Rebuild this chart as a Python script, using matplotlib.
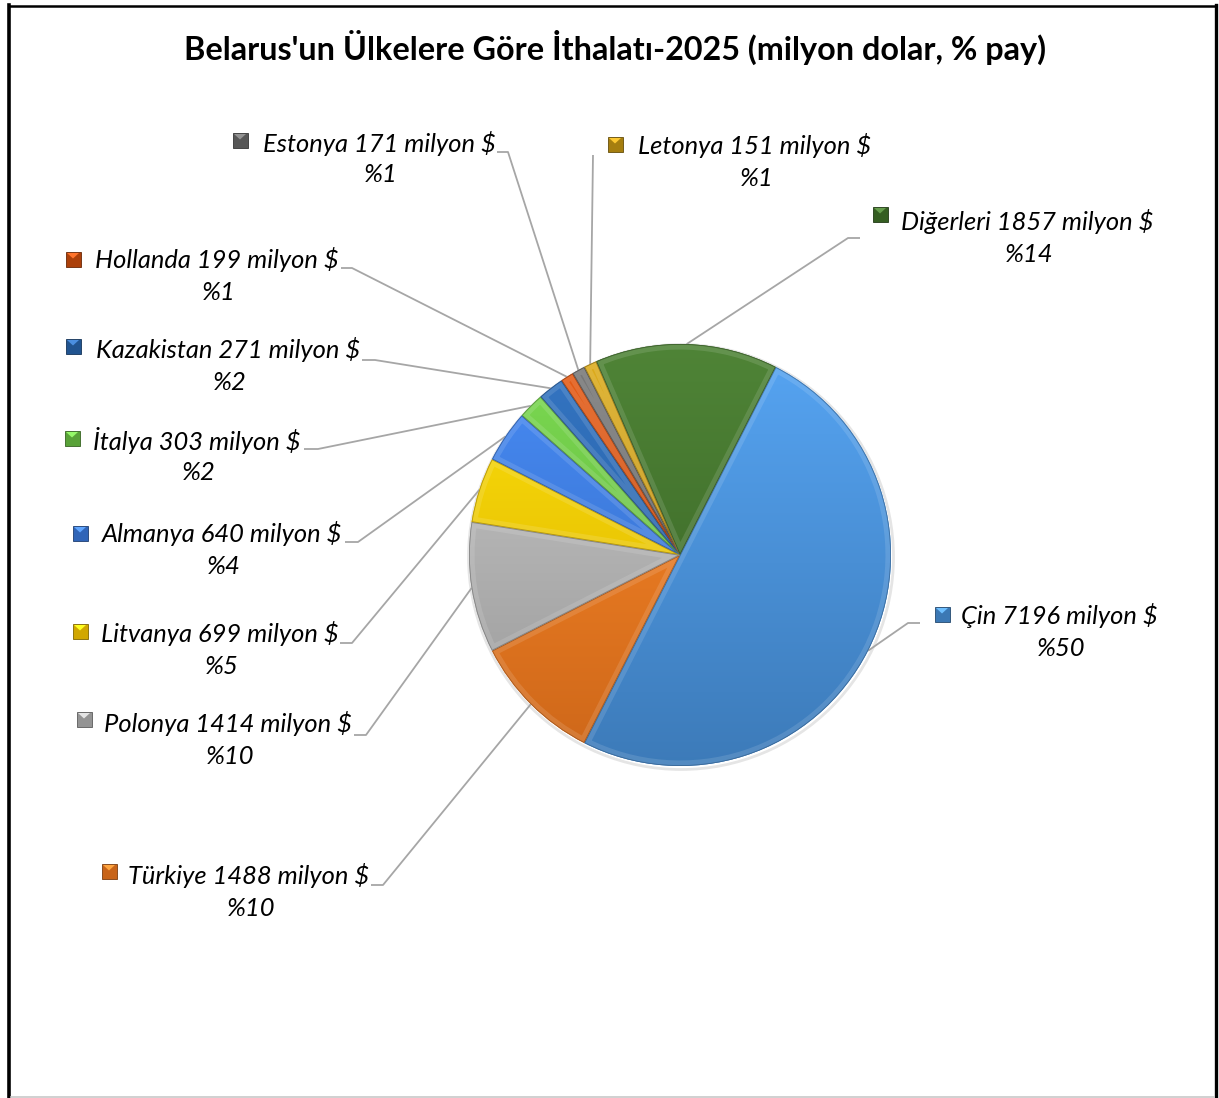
import numpy as np
import matplotlib
matplotlib.use("Agg")
import matplotlib.pyplot as plt
from matplotlib.patches import Wedge, Polygon, Circle
from matplotlib.colors import to_rgb

# ---------------- data ----------------
title = "Belarus'un Ülkelere Göre İthalatı-2025 (milyon dolar, % pay)"
countries = ["Çin", "Türkiye", "Polonya", "Litvanya", "Almanya", "İtalya",
             "Kazakistan", "Hollanda", "Estonya", "Letonya", "Diğerleri"]
imports_musd = [7196, 1488, 1414, 699, 640, 303, 271, 199, 171, 151, 1857]
share_pct = [50, 10, 10, 5, 4, 2, 2, 1, 1, 1, 14]
unit = "milyon $"

colors = ["#4892dc", "#f47a1e", "#b4b4b4", "#ffcc00", "#3b7be0", "#6cc644",
          "#2866b0", "#d24e0c", "#6a6a6a", "#c99a12", "#41732a"]

# ---------------- layout (pixels, origin top-left) ----------------
W, H = 1219, 1098
# text-center-x, line1-y, marker-x, marker-y, leader start (x,y), elbow (x,y)
layout = {
    "Çin":        (1059, 616, 942, 614, (920, 623), (908, 623)),
    "Türkiye":    (249, 876, 109, 871, (371, 885), (383, 885)),
    "Polonya":    (228, 724, 84, 719, (354, 735), (366, 735)),
    "Litvanya":   (220, 634, 80, 631, (340, 643), (352, 643)),
    "Almanya":    (222, 534, 80, 533, (345, 542), (358, 542)),
    "İtalya":     (197, 440, 72, 438, (304, 449), (318, 449)),
    "Kazakistan": (228, 350, 73, 346, (362, 360), (375, 360)),
    "Hollanda":   (217, 260, 73, 259, (341, 268), (352, 268)),
    "Estonya":    (379, 143, 240, 140, (497, 152), (508, 152)),
    "Letonya":    (755, 146, 615, 144, (593, 155), (593, 155)),
    "Diğerleri":  (1027, 222, 880, 214, (860, 238), (848, 238)),
}


def P(x, y):
    return (x, H - y)


fig = plt.figure(figsize=(W / 100, H / 100), dpi=100)
ax = fig.add_axes([0, 0, 1, 1])

cx, cy = P(680, 555)
R = 211

wedges, _ = ax.pie(share_pct, colors=colors, startangle=63, counterclock=False,
                   center=(cx, cy), radius=R,
                   wedgeprops=dict(edgecolor="none", linewidth=0))

# soft outer shadow
ax.add_patch(Circle((cx + 1, cy - 2), R + 1.5, facecolor="none",
                    edgecolor=(0, 0, 0, 0.10), lw=2.0, zorder=0.5))

grad = np.linspace(0, 1, 256)[:, None, None]
for w, c in zip(wedges, colors):
    rgb = np.array(to_rgb(c))
    top = np.clip(rgb * 1.06 + 0.04, 0, 1)
    bot = rgb * 0.84
    img = top[None, None, :] * (1 - grad) + bot[None, None, :] * grad
    img = np.repeat(img, 4, axis=1)
    im = ax.imshow(img, extent=(cx - R, cx + R, cy - R, cy + R), origin="upper",
                   zorder=2, interpolation="bilinear")
    im.set_clip_path(w)
    # bevel: subtle light inner band and darker edge
    band = Wedge(w.center, w.r, w.theta1, w.theta2, facecolor="none",
                 edgecolor=(1, 1, 1, 0.12), lw=8, zorder=3)
    ax.add_patch(band)
    band.set_clip_path(w)
    edge = Wedge(w.center, w.r, w.theta1, w.theta2, facecolor="none",
                 edgecolor=tuple(rgb * 0.55) + (0.6,), lw=1.2, zorder=3.5)
    ax.add_patch(edge)
    edge.set_clip_path(w)

# ---------------- fonts ----------------
renderer = fig.canvas.get_renderer()


def fit_size(text, target_w, **kw):
    t = ax.text(0, 0, text, fontsize=20, **kw)
    wpx = t.get_window_extent(renderer).width
    t.remove()
    return 20 * target_w / wpx


lab_kw = dict(family=["Lato", "DejaVu Sans"], fontstyle="italic")
lab_fs = fit_size(f"Kazakistan 271 {unit}", 264, **lab_kw)
title_kw = dict(family=["Lato", "DejaVu Sans"], fontweight="bold")
title_fs = fit_size(title, 862, **title_kw)

ax.text(*P(615, 47), title, ha="center", va="center", fontsize=title_fs,
        color="black", **title_kw)

# ---------------- labels, markers, leaders ----------------
for w, name, val, pct, c in zip(wedges, countries, imports_musd, share_pct, colors):
    tx, ty, mx, my, (sx, sy), (ex, ey) = layout[name]
    ax.text(*P(tx, ty), f"{name} {val} {unit}", ha="center", va="center",
            fontsize=lab_fs, color="black", **lab_kw)
    ax.text(*P(tx + 2, ty + 32), f"%{pct}", ha="center", va="center",
            fontsize=lab_fs, color="black", **lab_kw)

    # bevelled square marker
    rgb = np.array(to_rgb(c))
    s = 7.5
    X, Y = P(mx, my)
    ax.add_patch(Polygon([(X - s, Y - s), (X + s, Y - s), (X + s, Y + s), (X - s, Y + s)],
                         closed=True, facecolor=rgb * 0.82, edgecolor=rgb * 0.5,
                         lw=0.6, zorder=5))
    ax.add_patch(Polygon([(X - s + 1.5, Y + s - 1.5), (X + s - 1.5, Y + s - 1.5), (X, Y + 0.5)],
                         closed=True, facecolor=np.clip(rgb * 1.1 + 0.12, 0, 1),
                         edgecolor="none", zorder=6))

    # leader line to slice mid-angle on the rim
    mid = np.deg2rad((w.theta1 + w.theta2) / 2)
    px = w.center[0] + w.r * np.cos(mid)
    py = w.center[1] + w.r * np.sin(mid)
    x0, y0 = P(sx, sy)
    x1, y1 = P(ex, ey)
    ax.plot([x0, x1, px], [y0, y1, py], color="#a6a6a6", lw=1.3,
            solid_capstyle="butt", zorder=1)

# ---------------- frame ----------------
ax.plot([9, 9], [0, H - 5], color="black", lw=2.6, solid_capstyle="projecting", zorder=10)
ax.plot([9, 1215], [H - 5.5, H - 5.5], color="black", lw=1.8, zorder=10)
ax.plot([1215.5, 1215.5], [0, H - 5], color="black", lw=2.4, solid_capstyle="projecting", zorder=10)
ax.plot([11, 1214], [1.0, 1.0], color="#c8c8c8", lw=1.2, zorder=10)

ax.set_xlim(0, W)
ax.set_ylim(0, H)
ax.set_aspect("equal")
ax.axis("off")

fig.savefig("out.png", dpi=100, facecolor="white")
